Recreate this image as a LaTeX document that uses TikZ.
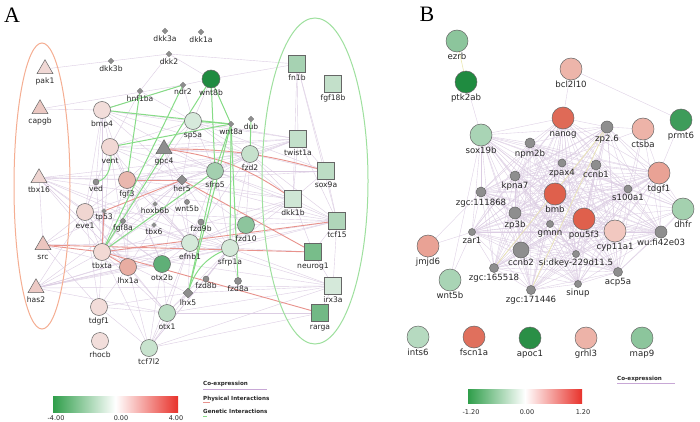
\documentclass[tikz,border=0pt]{standalone}
\usepackage{fontspec}
\setmainfont{DejaVu Sans}
\newfontfamily\panelfont{Liberation Serif}
\usetikzlibrary{shapes.geometric}
\pgfdeclarelayer{back}
\pgfdeclarelayer{bg}
\pgfsetlayers{back,bg,main}
\definecolor{coexp}{HTML}{DCCDE3}
\definecolor{coleg}{HTML}{C8A8D6}
\definecolor{physc}{HTML}{E8928C}
\definecolor{genc}{HTML}{86DC86}
\definecolor{yelc}{HTML}{ECE8B0}
\definecolor{bord}{HTML}{666666}
\definecolor{grayn}{HTML}{8E8E8E}
\definecolor{ellor}{HTML}{F5AE92}
\definecolor{ellgr}{HTML}{9EE09E}
\definecolor{barg}{HTML}{2F9E4A}
\definecolor{barr}{HTML}{E8322B}
\begin{document}
\begin{tikzpicture}[x=1pt,y=-1pt,
  labA/.style={font=\fontsize{7.6}{8}\selectfont, text height=5.5pt, text depth=1.5pt, inner sep=0.5pt, text=black!85},
  labB/.style={font=\fontsize{8.6}{9}\selectfont, text height=6.3pt, text depth=1.8pt, inner sep=0.5pt, text=black!85},
  cn/.style={circle, draw=bord, line width=0.5pt, minimum size=17pt, inner sep=0pt},
  sq/.style={rectangle, draw=bord, line width=0.5pt, minimum size=17pt, inner sep=0pt},
  tri/.style={regular polygon, regular polygon sides=3, draw=bord, line width=0.5pt, minimum size=18.5pt, inner sep=0pt},
  dm/.style={diamond, draw=bord!80, fill=grayn, line width=0.3pt, minimum size=6pt, inner sep=0pt},
  dmb/.style={diamond, draw=bord, fill=grayn, line width=0.4pt, minimum size=10pt, inner sep=0pt},
  sc/.style={circle, draw=bord, fill=grayn, line width=0.4pt, minimum size=6pt, inner sep=0pt},
  bn/.style={circle, draw=bord, line width=0.5pt, minimum size=22pt, inner sep=0pt},
  gn/.style={circle, draw=bord, fill=grayn, line width=0.5pt, inner sep=0pt},
  co/.style={draw=coexp, line width=0.4pt},
  coB/.style={draw=coexp, line width=0.35pt},
  phys/.style={draw=physc, line width=0.9pt},
  gen/.style={draw=genc, line width=1pt},
  yel/.style={draw=yelc, line width=0.6pt},
  legt/.style={font=\bfseries\fontsize{5.6}{6}\selectfont, anchor=west, inner sep=0pt, text=black!85},
  bart/.style={font=\fontsize{6.5}{7}\selectfont, inner sep=0pt, text=black!85}
]
\useasboundingbox (0,0) rectangle (700,422);
\begin{pgfonlayer}{back}
\fill[white] (0,0) rectangle (700,422);
\end{pgfonlayer}

% panel letters
\node[font=\panelfont\fontsize{22}{22}\selectfont, inner sep=0pt] (letA) at (12,15) {A};
\node[font=\panelfont\fontsize{22}{22}\selectfont, inner sep=0pt] (letB) at (427,14) {B};

% ellipses
\draw[ellor, line width=1pt] (42,186) ellipse [x radius=28, y radius=143];
\draw[ellgr, line width=1pt] (315,181) ellipse [x radius=53, y radius=163];

% ---------------- Panel A nodes ----------------
% triangles
\node[tri, fill={rgb,255:red,240;green,216;blue,213}, label={[labA,label distance=3pt]below:pak1}] (pak1) at (45,69) {};
\node[tri, fill={rgb,255:red,235;green,200;blue,194}, label={[labA,label distance=3pt]below:capgb}] (capgb) at (40,109) {};
\node[tri, fill={rgb,255:red,239;green,213;blue,209}, label={[labA,label distance=3pt]below:tbx16}] (tbx16) at (39,178) {};
\node[tri, fill={rgb,255:red,235;green,197;blue,191}, label={[labA,label distance=3pt]below:src}] (src) at (43,245) {};
\node[tri, fill={rgb,255:red,237;green,202;blue,197}, label={[labA,label distance=3pt]below:has2}] (has2) at (36,288) {};
\node[tri, fill=grayn, label={[labA,label distance=3pt]below:gpc4}] (gpc4) at (164,149) {};
% circles
\node[cn, fill={rgb,255:red,242;green,221;blue,218}, label={[labA,label distance=1.5pt]below:bmp4}] (bmp4) at (102,110) {};
\node[cn, fill={rgb,255:red,241;green,216;blue,212}, label={[labA,label distance=1.5pt]below:vent}] (vent) at (110,147) {};
\node[cn, fill={rgb,255:red,233;green,183;blue,174}, label={[labA,label distance=1.5pt]below:fgf3}] (fgf3) at (127,180) {};
\node[cn, fill={rgb,255:red,240;green,214;blue,209}, label={[labA,label distance=1.5pt]below:eve1}] (eve1) at (85,212) {};
\node[cn, fill={rgb,255:red,242;green,217;blue,212}, label={[labA,label distance=1.5pt]below:tbxta}] (tbxta) at (102,252) {};
\node[cn, fill={rgb,255:red,232;green,173;blue,162}, label={[labA,label distance=1.5pt]below:lhx1a}] (lhx1a) at (128,267) {};
\node[cn, fill={rgb,255:red,242;green,220;blue,217}, label={[labA,label distance=1.5pt]below:tdgf1}] (tdgf1) at (99,307) {};
\node[cn, fill={rgb,255:red,242;green,222;blue,219}, label={[labA,label distance=1.5pt]below:rhocb}] (rhocb) at (100,341) {};
\node[cn, minimum size=18pt, fill={rgb,255:red,31;green,139;blue,64}, label={[labA,label distance=1pt]below:wnt8b}] (wnt8b) at (211,79) {};
\node[cn, fill={rgb,255:red,214;green,233;blue,219}, label={[labA,label distance=1.5pt]below:sp5a}] (sp5a) at (193,121) {};
\node[cn, fill={rgb,255:red,198;green,225;blue,204}, label={[labA,label distance=1.5pt]below:fzd2}] (fzd2) at (250,154) {};
\node[cn, fill={rgb,255:red,163;green,207;blue,175}, label={[labA,label distance=1.5pt]below:sfrp5}] (sfrp5) at (215,171) {};
\node[cn, fill={rgb,255:red,141;green,197;blue,157}, label={[labA,label distance=1.5pt]below:fzd10}] (fzd10) at (246,225) {};
\node[cn, fill={rgb,255:red,212;green,233;blue,217}, label={[labA,label distance=1.5pt]below:efnb1}] (efnb1) at (190,243) {};
\node[cn, fill={rgb,255:red,212;green,232;blue,216}, label={[labA,label distance=1.5pt]below:sfrp1a}] (sfrp1a) at (230,248) {};
\node[cn, fill={rgb,255:red,95;green,175;blue,119}, label={[labA,label distance=1.5pt]below:otx2b}] (otx2b) at (162,264) {};
\node[cn, fill={rgb,255:red,186;green,220;blue,194}, label={[labA,label distance=1.5pt]below:otx1}] (otx1) at (167,313) {};
\node[cn, fill={rgb,255:red,200;green,227;blue,206}, label={[labA,label distance=1.5pt]below:tcf7l2}] (tcf7l2) at (149,348) {};
% squares
\node[sq, fill={rgb,255:red,166;green,210;blue,178}, label={[labA,label distance=1.5pt]below:fn1b}] (fn1b) at (297,64) {};
\node[sq, fill={rgb,255:red,195;green,224;blue,202}, label={[labA,label distance=1.5pt]below:fgf18b}] (fgf18b) at (333,84) {};
\node[sq, fill={rgb,255:red,195;green,224;blue,202}, label={[labA,label distance=1.5pt]below:twist1a}] (twist1a) at (298,139) {};
\node[sq, fill={rgb,255:red,189;green,221;blue,197}, label={[labA,label distance=1.5pt]below:sox9a}] (sox9a) at (326,171) {};
\node[sq, fill={rgb,255:red,207;green,230;blue,213}, label={[labA,label distance=1.5pt]below:dkk1b}] (dkk1b) at (293,199) {};
\node[sq, fill={rgb,255:red,176;green,214;blue,186}, label={[labA,label distance=1.5pt]below:tcf15}] (tcf15) at (337,221) {};
\node[sq, fill={rgb,255:red,120;green,189;blue,138}, label={[labA,label distance=1.5pt]below:neurog1}] (neurog1) at (313,252) {};
\node[sq, fill={rgb,255:red,213;green,233;blue,218}, label={[labA,label distance=1.5pt]below:irx3a}] (irx3a) at (333,286) {};
\node[sq, fill={rgb,255:red,114;green,185;blue,133}, label={[labA,label distance=1.5pt]below:rarga}] (rarga) at (320,313) {};
% small diamonds
\node[dm, label={[labA,label distance=1pt]below:dkk3a}] (dkk3a) at (165,31) {};
\node[dm, label={[labA,label distance=1pt]below:dkk1a}] (dkk1a) at (201,32) {};
\node[dm, label={[labA,label distance=1pt]below:dkk2}] (dkk2) at (169,54) {};
\node[dm, label={[labA,label distance=1pt]below:dkk3b}] (dkk3b) at (111,61) {};
\node[dm, label={[labA,label distance=1pt]below:hnf1ba}] (hnf1ba) at (140,91) {};
\node[dm, label={[labA,label distance=0.5pt]below:ndr2}] (ndr2) at (183,85) {};
\node[dm, label={[labA,label distance=1.5pt]below:wnt8a}] (wnt8a) at (231,124) {};
\node[dm, label={[labA,label distance=1pt]below:dub}] (dub) at (251,119) {};
\node[dm, minimum size=5pt, label={[labA,label distance=0pt]below:tp53}] (tp53) at (104,211) {};
\node[dm, minimum size=5pt, label={[labA,label distance=0.5pt]below:hoxb6b}] (hoxb6b) at (155,204) {};
\node[dm, minimum size=5pt, label={[labA,label distance=0.5pt]below:tbx6}] (tbx6) at (154,225) {};
\node[dmb, label={[labA,label distance=0.5pt]below:her5}] (her5) at (182,180) {};
\node[dmb, label={[labA,label distance=1pt]below:lhx5}] (lhx5) at (188,293) {};
% small circles
\node[sc, label={[labA,label distance=0.5pt]below:ved}] (ved) at (96,182) {};
\node[sc, minimum size=5pt, label={[labA,label distance=0.5pt]below:wnt5b}] (wnt5bA) at (187,202) {};
\node[sc, minimum size=5pt, label={[labA,label distance=0.5pt]below:fgf8a}] (fgf8a) at (123,221) {};
\node[sc, label={[labA,label distance=0.5pt]below:fzd9b}] (fzd9b) at (201,222) {};
\node[sc, label={[labA,label distance=0.5pt]below:fzd8b}] (fzd8b) at (206,279) {};
\node[sc, minimum size=7pt, label={[labA,label distance=0.5pt]below:fzd8a}] (fzd8a) at (238,281) {};

% ---------------- Panel B nodes ----------------
\node[bn, fill={rgb,255:red,140;green,197;blue,156}, label={[labB,label distance=0.5pt]below:ezrb}] (ezrb) at (457,41) {};
\node[bn, fill={rgb,255:red,31;green,139;blue,64}, label={[labB,label distance=0.5pt]below:ptk2ab}] (ptk2ab) at (466,82) {};
\node[bn, fill={rgb,255:red,237;green,181;blue,170}, label={[labB,label distance=0.5pt]below:bcl2l10}] (bcl2l10) at (571,69) {};
\node[bn, fill={rgb,255:red,169;green,212;blue,181}, label={[labB,label distance=0.5pt]below:sox19b}] (sox19b) at (481,135) {};
\node[bn, fill={rgb,255:red,223;green,106;blue,87}, label={[labB,label distance=0.5pt]below:nanog}] (nanog) at (563,118) {};
\node[bn, fill={rgb,255:red,237;green,179;blue,168}, label={[labB,label distance=0.5pt]below:ctsba}] (ctsba) at (643,129) {};
\node[bn, fill={rgb,255:red,61;green,156;blue,90}, label={[labB,label distance=0.5pt]below:prmt6}] (prmt6) at (681,120) {};
\node[bn, fill={rgb,255:red,233;green,162;blue,149}, label={[labB,label distance=0.5pt]below:tdgf1}] (tdgfB) at (659,173) {};
\node[bn, fill={rgb,255:red,223;green,96;blue,76}, label={[labB,label distance=0.5pt]below:bmb}] (bmb) at (555,194) {};
\node[bn, fill={rgb,255:red,164;green,209;blue,175}, label={[labB,label distance=0.5pt]below:dhfr}] (dhfr) at (683,209) {};
\node[bn, fill={rgb,255:red,223;green,96;blue,76}, label={[labB,label distance=0.5pt]below:pou5f3}] (pou5f3) at (584,219) {};
\node[bn, fill={rgb,255:red,242;green,200;blue,192}, label={[labB,label distance=0.5pt]below:cyp11a1}] (cyp11a1) at (615,231) {};
\node[bn, fill={rgb,255:red,233;green,162;blue,149}, label={[labB,label distance=0.5pt]below:jmjd6}] (jmjd6) at (428,246) {};
\node[bn, fill={rgb,255:red,169;green,212;blue,181}, label={[labB,label distance=0.5pt]below:wnt5b}] (wnt5bB) at (450,280) {};
\node[bn, fill={rgb,255:red,182;green,218;blue,192}, label={[labB,label distance=0.5pt]below:ints6}] (ints6) at (418,337) {};
\node[bn, fill={rgb,255:red,224;green,112;blue,93}, label={[labB,label distance=0.5pt]below:fscn1a}] (fscn1a) at (474,337) {};
\node[bn, fill={rgb,255:red,42;green,143;blue,70}, label={[labB,label distance=0.5pt]below:apoc1}] (apoc1) at (530,338) {};
\node[bn, fill={rgb,255:red,237;green,179;blue,168}, label={[labB,label distance=0.5pt]below:grhl3}] (grhl3) at (586,338) {};
\node[bn, fill={rgb,255:red,140;green,197;blue,156}, label={[labB,label distance=0.5pt]below:map9}] (map9) at (642,338) {};
% gray nodes
\node[gn, minimum size=12pt, label={[labB,label distance=1.5pt]below:zp2.6}] (zp26) at (607,127) {};
\node[gn, minimum size=10pt, label={[labB,label distance=1pt]below:npm2b}] (npm2b) at (530,143) {};
\node[gn, minimum size=8pt, label={[labB,label distance=1pt]below:zpax4}] (zpax4) at (562,163) {};
\node[gn, minimum size=10pt, label={[labB,label distance=0.5pt]below:ccnb1}] (ccnb1) at (596,165) {};
\node[gn, minimum size=10pt, label={[labB,label distance=0.5pt]below:kpna7}] (kpna7) at (515,176) {};
\node[gn, minimum size=8pt, label={[labB,label distance=0.3pt]below:s100a1}] (s100a1) at (628,189) {};
\node[gn, minimum size=10pt, label={[labB,label distance=1pt]below:{zgc:111868}}] (zgc111868) at (481,192) {};
\node[gn, minimum size=12pt, label={[labB,label distance=1pt]below:zp3b}] (zp3b) at (515,213) {};
\node[gn, minimum size=7pt, label={[labB,label distance=0.8pt]below:gmnn}] (gmnn) at (550,224) {};
\node[gn, minimum size=12pt, label={[labB,label distance=0.5pt]below:{wu:fi42e03}}] (wufi) at (661,232) {};
\node[gn, minimum size=7pt, label={[labB,label distance=0.8pt]below:zar1}] (zar1) at (472,232) {};
\node[gn, minimum size=16pt, label={[labB,label distance=0pt]below:ccnb2}] (ccnb2) at (521,250) {};
\node[gn, minimum size=7pt, label={[labB,label distance=0.5pt]below:{si:dkey-229d11.5}}] (sidkey) at (576,254) {};
\node[gn, minimum size=9pt, label={[labB,label distance=0.8pt]below:acp5a}] (acp5a) at (618,272) {};
\node[gn, minimum size=9pt, label={[labB,label distance=0.5pt]below:{zgc:165518}}] (zgc165518) at (494,268) {};
\node[gn, minimum size=7pt, label={[labB,label distance=0.8pt]below:sinup}] (sinup) at (578,284) {};
\node[gn, minimum size=9pt, label={[labB,label distance=0.5pt]below:{zgc:171446}}] (zgc171446) at (531,290) {};

% ---------------- Legends ----------------
\shade[left color=barg, right color=barr, middle color=white] (53,396) rectangle (178,412);
\node[bart] (la1) at (56,418) {-4.00};
\node[bart] (la2) at (121,418) {0.00};
\node[bart] (la3) at (176,418) {4.00};
\node[legt] (lco) at (203,384) {Co-expression};
\node[legt] (lph) at (203,398.5) {Physical Interactions};
\node[legt] (lge) at (203,411) {Genetic Interactions};
\coordinate (u1a) at (203,389); \coordinate (u1b) at (267,389);
\coordinate (u2a) at (203,402.5); \coordinate (u2b) at (210,402.5);
\coordinate (u3a) at (203,416); \coordinate (u3b) at (207,416);
\draw[coleg, line width=1pt] (u1a) -- (u1b);
\draw[physc, line width=1pt] (u2a) -- (u2b);
\draw[genc, line width=1pt] (u3a) -- (u3b);

\shade[left color=barg, right color=barr, middle color=white] (468,389) rectangle (582,403);
\node[bart] (lb1) at (471,412) {-1.20};
\node[bart] (lb2) at (527,412) {0.00};
\node[bart] (lb3) at (583,412) {1.20};
\node[legt] (lcoB) at (617,379) {Co-expression};
\coordinate (u4a) at (617,383.5); \coordinate (u4b) at (675,383.5);
\draw[coleg, line width=1pt] (u4a) -- (u4b);

% ---------------- Edges ----------------
\begin{pgfonlayer}{bg}
% Panel A co-expression
\foreach \a/\b in {pak1/dkk3b, dkk3b/dkk2, dkk2/fn1b, dkk2/hnf1ba, capgb/ndr2, capgb/bmp4, ndr2/wnt8b, wnt8b/fn1b, ndr2/sp5a, ndr2/bmp4, hnf1ba/sp5a, hnf1ba/vent, bmp4/vent, bmp4/sp5a, bmp4/fgf3, bmp4/ved, bmp4/her5, bmp4/tbxta, bmp4/eve1, bmp4/sfrp5, bmp4/fzd2, bmp4/twist1a, vent/fgf3, vent/eve1, vent/her5, vent/tbxta, vent/sp5a, vent/fzd2, vent/sfrp5, vent/efnb1, vent/otx2b, vent/lhx1a, fgf3/her5, fgf3/tbxta, fgf3/eve1, fgf3/sfrp5, fgf3/fzd2, fgf3/efnb1, fgf3/otx2b, fgf3/lhx1a, fgf3/sp5a, fgf3/twist1a, gpc4/sfrp5, gpc4/fzd2, gpc4/her5, gpc4/tbxta, gpc4/efnb1, gpc4/twist1a, tbx16/fgf3, tbx16/her5, tbx16/tbxta, tbx16/efnb1, tbx16/sfrp1a, tbx16/eve1, tbx16/otx2b, tbx16/lhx1a, tbx16/tcf15, tbx16/fzd2, tbx16/sfrp5, ved/tbxta, ved/eve1, eve1/tbxta, eve1/her5, eve1/efnb1, eve1/lhx1a, eve1/sfrp1a, eve1/otx2b, eve1/tdgf1, eve1/otx1, her5/sfrp5, her5/fzd2, her5/efnb1, her5/sfrp1a, her5/tbxta, her5/lhx1a, her5/otx2b, her5/dkk1b, her5/tcf15, her5/twist1a, her5/sox9a, sp5a/sfrp5, sp5a/fzd2, sp5a/twist1a, sp5a/her5, sp5a/tbxta, sfrp5/fzd2, sfrp5/efnb1, sfrp5/sfrp1a, sfrp5/tbxta, sfrp5/twist1a, sfrp5/dkk1b, sfrp5/tcf15, sfrp5/sox9a, fzd2/twist1a, fzd2/sox9a, fzd2/dkk1b, fzd2/tcf15, fzd2/efnb1, fzd2/sfrp1a, fzd2/tbxta, fzd2/fzd10, tbxta/efnb1, tbxta/otx2b, tbxta/sfrp1a, tbxta/tdgf1, tbxta/otx1, tbxta/tcf7l2, tbxta/lhx5, tbxta/dkk1b, tbxta/irx3a, efnb1/sfrp1a, efnb1/otx2b, efnb1/lhx1a, efnb1/otx1, efnb1/dkk1b, efnb1/tcf15, efnb1/irx3a, efnb1/tcf7l2, sfrp1a/dkk1b, sfrp1a/tcf15, sfrp1a/irx3a, sfrp1a/neurog1, sfrp1a/otx1, sfrp1a/tcf7l2, lhx1a/otx2b, lhx1a/otx1, lhx1a/tcf7l2, lhx1a/tdgf1, otx2b/otx1, otx2b/tcf7l2, otx2b/sfrp1a, otx1/tcf7l2, otx1/lhx5, otx1/rarga, tcf7l2/lhx5, tcf7l2/irx3a, tcf7l2/rarga, tcf7l2/sfrp1a, tdgf1/tcf7l2, tdgf1/otx1, has2/tbxta, has2/lhx1a, has2/efnb1, has2/sfrp1a, has2/otx2b, has2/tcf15, has2/irx3a, has2/otx1, has2/eve1, has2/her5, has2/fzd10, src/eve1, src/her5, src/lhx1a, src/tdgf1, src/efnb1, tbx16/src, twist1a/sox9a, twist1a/dkk1b, twist1a/tcf15, sox9a/tcf15, sox9a/dkk1b, dkk1b/tcf15, dkk1b/neurog1, tcf15/irx3a, tcf15/neurog1, neurog1/irx3a, fn1b/twist1a, fn1b/sox9a, fn1b/tcf15, fzd10/sfrp1a, fzd10/tcf15, fzd10/dkk1b, fzd10/efnb1, fzd9b/efnb1, wnt5bA/her5, hoxb6b/her5, tbx6/efnb1, tp53/eve1, fgf8a/tbxta, fzd8b/sfrp1a, lhx5/efnb1, lhx5/irx3a, rarga/irx3a, sp5a/dkk1b, eve1/tcf15, vent/twist1a, fgf3/sfrp1a, fgf3/dkk1b, her5/fzd10, sp5a/sox9a, fn1b/dkk1b, wnt8b/sp5a, dkk2/wnt8b, hoxb6b/efnb1, tbx6/her5, fzd9b/fzd10, fzd8a/sfrp1a, tdgf1/lhx5, otx1/irx3a}
  \draw[co] (\a.center) -- (\b.center);
% Panel A physical
\foreach \a/\b in {src/neurog1, src/tbxta, tbxta/rarga, tbxta/tp53, tp53/her5, her5/neurog1, tbxta/tcf15, tbxta/lhx1a, fgf3/her5}
  \draw[phys] (\a.center) -- (\b.center);
\draw[phys] (gpc4.center) to[bend left=14] (dkk1b.center);
\draw[phys] (gpc4.center) to[bend left=8] (sox9a.center);
% Panel A genetic
\foreach \a/\b in {bmp4/ndr2, bmp4/wnt8a, vent/wnt8a, fgf3/hnf1ba, tbxta/wnt8b, tbxta/sfrp5, tbxta/ndr2, wnt8b/wnt8a, wnt8b/sfrp5, sp5a/wnt8a, wnt8a/sfrp5, wnt8a/sfrp1a, wnt8a/fzd8a, wnt8a/lhx5, sfrp5/lhx5, dub/fzd2}
  \draw[gen] (\a.center) -- (\b.center);
\draw[gen] (ved.center) to[out=10,in=-80] (vent.center);
\draw[gen] (sfrp1a.center) to[out=200,in=75] (lhx5.center);

% Panel B co-expression (dense core)
\def\coreB{sox19b,nanog,zp26,npm2b,zpax4,ccnb1,kpna7,bmb,s100a1,zgc111868,zp3b,gmnn,pou5f3,cyp11a1,wufi,zar1,ccnb2,sidkey,acp5a,zgc165518,sinup,zgc171446,tdgfB}
\foreach \a [count=\i] in \coreB {
  \foreach \b [count=\j] in \coreB {
    \ifnum\j>\i \draw[coB] (\a.center) -- (\b.center); \fi
  }
}
\foreach \a/\b in {ptk2ab/sox19b, bcl2l10/nanog, bcl2l10/prmt6, prmt6/tdgfB, ctsba/tdgfB, ctsba/zp26, ctsba/wufi, ctsba/s100a1, ctsba/kpna7, ctsba/acp5a, dhfr/tdgfB, dhfr/wufi, dhfr/s100a1, dhfr/cyp11a1, dhfr/pou5f3, dhfr/bmb, dhfr/ccnb1, dhfr/zp26, dhfr/sidkey, dhfr/acp5a, dhfr/nanog, dhfr/zpax4, jmjd6/zar1, jmjd6/zgc111868, wnt5bB/zar1, wnt5bB/sox19b}
  \draw[coB] (\a.center) -- (\b.center);
\draw[yel] (ezrb.center) -- (ptk2ab.center);
\draw[yel] (zp26.center) -- (zgc171446.center);
\draw[yel] (zp26.center) -- (zgc165518.center);
\end{pgfonlayer}
\end{tikzpicture}
\end{document}
